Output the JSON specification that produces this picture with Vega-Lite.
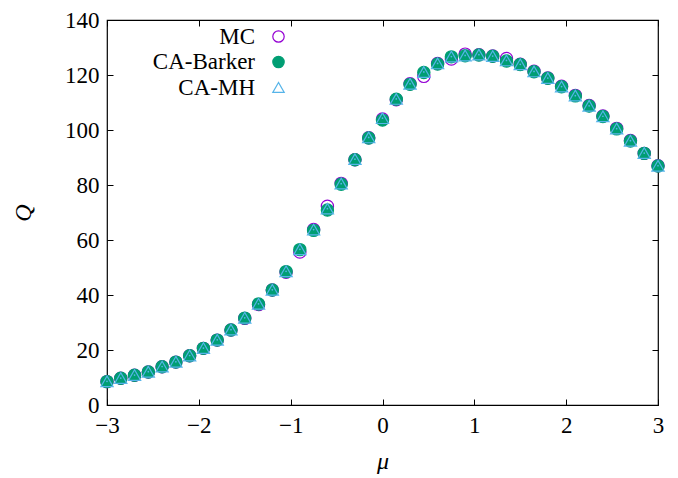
{
  "$schema": "https://vega.github.io/schema/vega-lite/v6.json",
  "width": 551,
  "height": 385,
  "autosize": {"type": "none"},
  "padding": {"left": 107, "top": 20, "right": 20, "bottom": 73},
  "background": "white",
  "config": {
    "view": {"stroke": "#000", "strokeWidth": 1.2},
    "font": "Liberation Serif",
    "axis": {
      "grid": false,
      "domain": false,
      "tickSize": -6,
      "tickColor": "#000",
      "tickWidth": 1,
      "labelFont": "Liberation Serif",
      "labelFontSize": 23,
      "labelColor": "#000",
      "titleFont": "Liberation Serif",
      "titleFontStyle": "italic",
      "titleFontWeight": "normal",
      "titleFontSize": 24,
      "titleColor": "#000"
    }
  },
  "datasets": {
    "pts": [
      {"mu": -3, "series": "MC", "Q": 8.5}, {"mu": -2.85, "series": "MC", "Q": 9.7}, {"mu": -2.7, "series": "MC", "Q": 10.8}, {"mu": -2.55, "series": "MC", "Q": 12.0}, {"mu": -2.4, "series": "MC", "Q": 13.9}, {"mu": -2.25, "series": "MC", "Q": 15.6}, {"mu": -2.1, "series": "MC", "Q": 17.9}, {"mu": -1.95, "series": "MC", "Q": 20.6}, {"mu": -1.8, "series": "MC", "Q": 23.6}, {"mu": -1.65, "series": "MC", "Q": 27.3}, {"mu": -1.5, "series": "MC", "Q": 31.5}, {"mu": -1.35, "series": "MC", "Q": 36.5}, {"mu": -1.2, "series": "MC", "Q": 41.8}, {"mu": -1.05, "series": "MC", "Q": 48.3}, {"mu": -0.9, "series": "MC", "Q": 55.6}, {"mu": -0.75, "series": "MC", "Q": 63.8}, {"mu": -0.6, "series": "MC", "Q": 72.3}, {"mu": -0.45, "series": "MC", "Q": 80.6}, {"mu": -0.3, "series": "MC", "Q": 89.2}, {"mu": -0.15, "series": "MC", "Q": 97.2}, {"mu": 0, "series": "MC", "Q": 104.0}, {"mu": 0.15, "series": "MC", "Q": 111.0}, {"mu": 0.3, "series": "MC", "Q": 116.8}, {"mu": 0.45, "series": "MC", "Q": 119.5}, {"mu": 0.6, "series": "MC", "Q": 124.2}, {"mu": 0.75, "series": "MC", "Q": 125.8}, {"mu": 0.9, "series": "MC", "Q": 127.6}, {"mu": 1.05, "series": "MC", "Q": 127.4}, {"mu": 1.2, "series": "MC", "Q": 126.9}, {"mu": 1.35, "series": "MC", "Q": 126.0}, {"mu": 1.5, "series": "MC", "Q": 123.9}, {"mu": 1.65, "series": "MC", "Q": 121.4}, {"mu": 1.8, "series": "MC", "Q": 118.9}, {"mu": 1.95, "series": "MC", "Q": 115.9}, {"mu": 2.1, "series": "MC", "Q": 112.6}, {"mu": 2.25, "series": "MC", "Q": 108.9}, {"mu": 2.4, "series": "MC", "Q": 105.1}, {"mu": 2.55, "series": "MC", "Q": 100.6}, {"mu": 2.7, "series": "MC", "Q": 96.2}, {"mu": 2.85, "series": "MC", "Q": 91.5}, {"mu": 3, "series": "MC", "Q": 87.0},
      {"mu": -3, "series": "CA-Barker", "Q": 8.5}, {"mu": -2.85, "series": "CA-Barker", "Q": 9.7}, {"mu": -2.7, "series": "CA-Barker", "Q": 10.8}, {"mu": -2.55, "series": "CA-Barker", "Q": 12.0}, {"mu": -2.4, "series": "CA-Barker", "Q": 13.9}, {"mu": -2.25, "series": "CA-Barker", "Q": 15.6}, {"mu": -2.1, "series": "CA-Barker", "Q": 17.9}, {"mu": -1.95, "series": "CA-Barker", "Q": 20.6}, {"mu": -1.8, "series": "CA-Barker", "Q": 23.6}, {"mu": -1.65, "series": "CA-Barker", "Q": 27.3}, {"mu": -1.5, "series": "CA-Barker", "Q": 31.6}, {"mu": -1.35, "series": "CA-Barker", "Q": 36.7}, {"mu": -1.2, "series": "CA-Barker", "Q": 41.8}, {"mu": -1.05, "series": "CA-Barker", "Q": 48.5}, {"mu": -0.9, "series": "CA-Barker", "Q": 56.5}, {"mu": -0.75, "series": "CA-Barker", "Q": 63.5}, {"mu": -0.6, "series": "CA-Barker", "Q": 70.9}, {"mu": -0.45, "series": "CA-Barker", "Q": 80.3}, {"mu": -0.3, "series": "CA-Barker", "Q": 89.2}, {"mu": -0.15, "series": "CA-Barker", "Q": 97.1}, {"mu": 0, "series": "CA-Barker", "Q": 103.6}, {"mu": 0.15, "series": "CA-Barker", "Q": 111.2}, {"mu": 0.3, "series": "CA-Barker", "Q": 116.6}, {"mu": 0.45, "series": "CA-Barker", "Q": 120.9}, {"mu": 0.6, "series": "CA-Barker", "Q": 124.0}, {"mu": 0.75, "series": "CA-Barker", "Q": 126.6}, {"mu": 0.9, "series": "CA-Barker", "Q": 127.0}, {"mu": 1.05, "series": "CA-Barker", "Q": 127.3}, {"mu": 1.2, "series": "CA-Barker", "Q": 126.8}, {"mu": 1.35, "series": "CA-Barker", "Q": 125.1}, {"mu": 1.5, "series": "CA-Barker", "Q": 123.8}, {"mu": 1.65, "series": "CA-Barker", "Q": 121.2}, {"mu": 1.8, "series": "CA-Barker", "Q": 118.8}, {"mu": 1.95, "series": "CA-Barker", "Q": 115.7}, {"mu": 2.1, "series": "CA-Barker", "Q": 112.4}, {"mu": 2.25, "series": "CA-Barker", "Q": 108.7}, {"mu": 2.4, "series": "CA-Barker", "Q": 104.9}, {"mu": 2.55, "series": "CA-Barker", "Q": 100.4}, {"mu": 2.7, "series": "CA-Barker", "Q": 96.0}, {"mu": 2.85, "series": "CA-Barker", "Q": 91.5}, {"mu": 3, "series": "CA-Barker", "Q": 86.9},
      {"mu": -3, "series": "CA-MH", "Q": 8.6}, {"mu": -2.85, "series": "CA-MH", "Q": 9.8}, {"mu": -2.7, "series": "CA-MH", "Q": 10.9}, {"mu": -2.55, "series": "CA-MH", "Q": 12.1}, {"mu": -2.4, "series": "CA-MH", "Q": 14.0}, {"mu": -2.25, "series": "CA-MH", "Q": 15.7}, {"mu": -2.1, "series": "CA-MH", "Q": 18.0}, {"mu": -1.95, "series": "CA-MH", "Q": 20.7}, {"mu": -1.8, "series": "CA-MH", "Q": 23.7}, {"mu": -1.65, "series": "CA-MH", "Q": 27.4}, {"mu": -1.5, "series": "CA-MH", "Q": 31.7}, {"mu": -1.35, "series": "CA-MH", "Q": 36.8}, {"mu": -1.2, "series": "CA-MH", "Q": 41.9}, {"mu": -1.05, "series": "CA-MH", "Q": 48.6}, {"mu": -0.9, "series": "CA-MH", "Q": 56.6}, {"mu": -0.75, "series": "CA-MH", "Q": 63.8}, {"mu": -0.6, "series": "CA-MH", "Q": 71.4}, {"mu": -0.45, "series": "CA-MH", "Q": 80.5}, {"mu": -0.3, "series": "CA-MH", "Q": 89.4}, {"mu": -0.15, "series": "CA-MH", "Q": 97.3}, {"mu": 0, "series": "CA-MH", "Q": 104.3}, {"mu": 0.15, "series": "CA-MH", "Q": 111.3}, {"mu": 0.3, "series": "CA-MH", "Q": 116.8}, {"mu": 0.45, "series": "CA-MH", "Q": 121.1}, {"mu": 0.6, "series": "CA-MH", "Q": 124.2}, {"mu": 0.75, "series": "CA-MH", "Q": 126.7}, {"mu": 0.9, "series": "CA-MH", "Q": 127.1}, {"mu": 1.05, "series": "CA-MH", "Q": 127.4}, {"mu": 1.2, "series": "CA-MH", "Q": 126.9}, {"mu": 1.35, "series": "CA-MH", "Q": 125.3}, {"mu": 1.5, "series": "CA-MH", "Q": 123.9}, {"mu": 1.65, "series": "CA-MH", "Q": 121.3}, {"mu": 1.8, "series": "CA-MH", "Q": 118.9}, {"mu": 1.95, "series": "CA-MH", "Q": 115.8}, {"mu": 2.1, "series": "CA-MH", "Q": 112.5}, {"mu": 2.25, "series": "CA-MH", "Q": 108.8}, {"mu": 2.4, "series": "CA-MH", "Q": 105.0}, {"mu": 2.55, "series": "CA-MH", "Q": 100.5}, {"mu": 2.7, "series": "CA-MH", "Q": 96.1}, {"mu": 2.85, "series": "CA-MH", "Q": 91.6}, {"mu": 3, "series": "CA-MH", "Q": 87.0}
    ]
  },
  "data": {"name": "pts"},
  "layer": [
    {
      "mark": {"type": "point", "filled": true, "size": 150, "strokeWidth": 1.2, "opacity": 1},
      "encoding": {
        "x": {
          "field": "mu", "type": "quantitative",
          "scale": {"domain": [-3, 3], "nice": false, "zero": false},
          "axis": {"values": [-3, -2, -1, 0, 1, 2, 3], "labelFont": "Liberation Serif", "labelPadding": 15, "labelFlush": false, "title": "μ", "titleFont": "Liberation Serif", "titleX": 275.5, "titleY": 63, "titleBaseline": "alphabetic", "titleAlign": "center"}
        },
        "y": {
          "field": "Q", "type": "quantitative",
          "scale": {"domain": [0, 140], "nice": false, "zero": false},
          "axis": {"values": [0, 20, 40, 60, 80, 100, 120, 140], "labelFont": "Liberation Serif", "labelPadding": 14, "labelFlush": false, "title": "Q", "titleFont": "Liberation Serif", "titleX": -77, "titleY": 192.5, "titleAngle": -90, "titleBaseline": "alphabetic", "titleAlign": "center"}
        },
        "shape": {
          "field": "series", "type": "nominal",
          "scale": {"domain": ["MC", "CA-Barker", "CA-MH"], "range": ["circle", "circle", "triangle-up"]},
          "legend": {"title": null, "orient": "none", "legendX": 160, "legendY": 5, "padding": 0, "labelAlign": "right", "labelOffset": -35, "labelFontSize": 23, "labelFont": "Liberation Serif", "labelColor": "#000", "symbolSize": 130, "symbolStrokeWidth": 1.2, "rowPadding": 1.5, "labelLimit": 300}
        },
        "stroke": {
          "field": "series", "type": "nominal",
          "scale": {"domain": ["MC", "CA-Barker", "CA-MH"], "range": ["#9400d3", "#009e73", "#56b4e9"]},
          "legend": {"title": null, "orient": "none", "legendX": 160, "legendY": 5, "padding": 0, "labelAlign": "right", "labelOffset": -35, "labelFontSize": 23, "labelFont": "Liberation Serif", "labelColor": "#000", "symbolSize": 130, "symbolStrokeWidth": 1.2, "rowPadding": 1.5, "labelLimit": 300}
        },
        "fill": {
          "field": "series", "type": "nominal",
          "scale": {"domain": ["MC", "CA-Barker", "CA-MH"], "range": ["transparent", "#009e73", "transparent"]},
          "legend": {"title": null, "orient": "none", "legendX": 160, "legendY": 5, "padding": 0, "labelAlign": "right", "labelOffset": -35, "labelFontSize": 23, "labelFont": "Liberation Serif", "labelColor": "#000", "symbolSize": 130, "symbolStrokeWidth": 1.2, "rowPadding": 1.5, "labelLimit": 300}
        }
      }
    },
    {
      "transform": [{"filter": "datum.series === 'CA-MH'"}],
      "mark": {"type": "point", "filled": true, "shape": "circle", "size": 3, "color": "#56b4e9", "opacity": 1},
      "encoding": {
        "x": {"field": "mu", "type": "quantitative", "axis": {"orient": "top", "labels": false, "title": null, "values": [-3, -2, -1, 0, 1, 2, 3]}},
        "y": {"field": "Q", "type": "quantitative", "axis": {"orient": "right", "labels": false, "title": null, "values": [0, 20, 40, 60, 80, 100, 120, 140]}}
      }
    }
  ],
  "resolve": {"axis": {"x": "independent", "y": "independent"}}
}
